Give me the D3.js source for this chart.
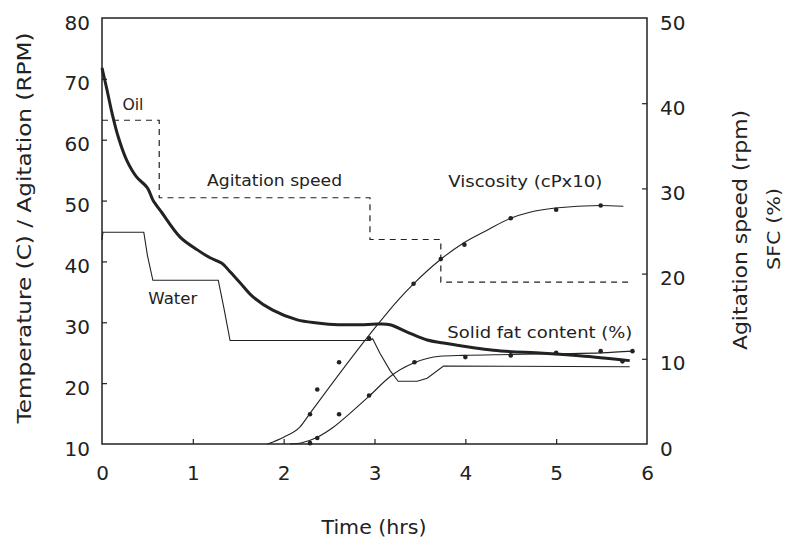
<!DOCTYPE html>
<html>
<head>
<meta charset="utf-8">
<script src="https://cdn.jsdelivr.net/npm/d3@7"></script>
<style>
  body { margin: 0; background: #fff; }
  svg text { font-family: "DejaVu Sans", sans-serif; fill: #222; }
  .tick line { stroke: #222; stroke-width: 1.2; }
</style>
</head>
<body>
<svg id="svg" width="786" height="551"></svg>
<script>
// values (time in hrs)
const timeTicks = [0, 1, 2, 3, 4, 5, 6];
const leftTicks = [10, 20, 30, 40, 50, 60, 70, 80];
const rightTicks = [0, 10, 20, 30, 40, 50];

// oil temperature (C), left axis
const oilTime = [0, 0.055, 0.11, 0.18, 0.27, 0.38, 0.5, 0.56, 0.66, 0.86, 1.05, 1.19, 1.32, 1.41, 1.52, 1.66, 1.88, 2.15, 2.37, 2.6, 2.84, 3.03, 3.17, 3.36, 3.58, 3.76, 4.31, 4.86, 5.41, 5.81];
const oilTemp = [71.8, 68.2, 64.4, 60.4, 56.7, 53.9, 52.1, 50.1, 48.0, 44.0, 41.9, 40.6, 39.7, 38.3, 36.5, 34.2, 32.0, 30.4, 29.9, 29.6, 29.6, 29.7, 29.6, 28.4, 27.1, 26.6, 25.4, 24.9, 24.3, 23.7];

// water temperature (C), left axis
const waterTime = [0, 0.01, 0.46, 0.5, 0.56, 1.28, 1.34, 1.41, 2.95, 2.98, 3.06, 3.17, 3.26, 3.47, 3.58, 3.76, 5.81];
const waterTemp = [43.5, 44.8, 44.8, 41.0, 36.9, 36.9, 32.5, 27.0, 27.0, 27.3, 24.9, 22.1, 20.3, 20.3, 20.8, 22.8, 22.7];

// agitation speed (rpm), right axis, steps
const agitTime = [0, 0.63, 0.63, 2.95, 2.95, 3.73, 3.73, 5.81];
const agitSpeed = [38, 38, 28.9, 28.9, 24, 24, 19, 19];

// viscosity (cP x 10), right axis: fitted curve and measured points
const viscTime = [1.82, 2.0, 2.18, 2.29, 2.95, 3.26, 3.43, 3.72, 3.98, 4.24, 4.5, 4.71, 4.99, 5.48, 5.74];
const viscValue = [0, 0.8, 2.0, 3.6, 12.9, 16.9, 18.8, 21.6, 23.6, 25.1, 26.5, 27.2, 27.7, 28.0, 27.9];
const viscPtTime = [2.29, 2.37, 2.61, 2.94, 3.43, 3.73, 3.99, 4.5, 5.0, 5.49];
const viscPtValue = [3.5, 6.4, 9.6, 12.4, 18.8, 21.7, 23.4, 26.5, 27.5, 28.0];

// solid fat content (%), right axis: fitted curve and measured points
const sfcTime = [2.07, 2.2, 2.37, 2.55, 2.73, 2.95, 3.17, 3.43, 3.72, 3.98, 4.5, 5.0, 5.5, 5.84];
const sfcValue = [0, 0.15, 0.8, 2.0, 3.6, 5.7, 7.9, 9.5, 10.3, 10.4, 10.5, 10.6, 10.7, 10.9];
const sfcPtTime = [2.29, 2.37, 2.61, 2.94, 3.44, 4.0, 4.5, 5.0, 5.49, 5.73, 5.84];
const sfcPtValue = [0.1, 0.7, 3.5, 5.7, 9.6, 10.2, 10.4, 10.7, 10.9, 9.7, 10.9];

const svg = d3.select("#svg");
const ink = "#222";

const x = d3.scaleLinear().domain([0, 6]).range([102, 647]);
const yL = d3.scaleLinear().domain([10, 80]).range([444, 18]);
const yR = d3.scaleLinear().domain([0, 50]).range([444, 18]);

const zip = (a, b) => a.map((d, i) => [d, b[i]]);

// axes (ticks point inward)
const gx = svg.append("g").attr("transform", "translate(0,444)")
  .call(d3.axisBottom(x).tickValues(timeTicks).tickSize(-5).tickSizeOuter(0).tickPadding(22).tickFormat(d3.format("d")));
const gl = svg.append("g").attr("transform", "translate(102,0)")
  .call(d3.axisLeft(yL).tickValues(leftTicks).tickSize(-5).tickSizeOuter(0).tickPadding(12));
const gr = svg.append("g").attr("transform", "translate(647,0)")
  .call(d3.axisRight(yR).tickValues(rightTicks).tickSize(-5).tickSizeOuter(0).tickPadding(13));
[gx, gl, gr].forEach(g => {
  g.select(".domain").remove();
  g.selectAll("text").style("font-size", "20px").attr("fill", ink);
});
gl.selectAll("text").attr("dy", "0.55em");
gr.selectAll("text").attr("dy", "0.55em");
// no tick marks at the frame corners
gx.selectAll(".tick line").filter(d => d === 0 || d === 6).remove();
gl.selectAll(".tick line").filter(d => d === 10 || d === 80).remove();
gr.selectAll(".tick line").filter(d => d === 0 || d === 50).remove();

// frame
svg.append("rect")
  .attr("x", x(0)).attr("y", yL(80))
  .attr("width", x(6) - x(0)).attr("height", yL(10) - yL(80))
  .attr("fill", "none").attr("stroke", ink).attr("stroke-width", 1.5);

// lines
const lineL = d3.line().x(d => x(d[0])).y(d => yL(d[1]));
const lineR = d3.line().x(d => x(d[0])).y(d => yR(d[1]));

svg.append("path").datum(zip(agitTime, agitSpeed))
  .attr("d", lineR).attr("fill", "none").attr("stroke", ink)
  .attr("stroke-width", 1.2).attr("stroke-dasharray", "6,5");

svg.append("path").datum(zip(waterTime, waterTemp))
  .attr("d", lineL).attr("fill", "none").attr("stroke", ink).attr("stroke-width", 1.1);

svg.append("path").datum(zip(viscTime, viscValue))
  .attr("d", lineR.curve(d3.curveMonotoneX)).attr("fill", "none").attr("stroke", ink).attr("stroke-width", 1.1);

svg.append("path").datum(zip(sfcTime, sfcValue))
  .attr("d", lineR.curve(d3.curveMonotoneX)).attr("fill", "none").attr("stroke", ink).attr("stroke-width", 1.1);

svg.append("path").datum(zip(oilTime, oilTemp))
  .attr("d", lineL.curve(d3.curveCatmullRom.alpha(0.5))).attr("fill", "none").attr("stroke", ink).attr("stroke-width", 3);

// measured points
svg.append("g").selectAll("circle").data(zip(viscPtTime, viscPtValue).concat(zip(sfcPtTime, sfcPtValue)))
  .join("circle")
  .attr("cx", d => x(d[0])).attr("cy", d => yR(d[1])).attr("r", 2.3).attr("fill", ink);

// series labels (centre position in data units)
const labels = [
  { text: "Oil", t: 0.34, v: 64.9, len: 21 },
  { text: "Agitation  speed", t: 1.9, v: 52.4, len: 135 },
  { text: "Viscosity  (cPx10)", t: 4.66, v: 52.2, len: 154 },
  { text: "Water", t: 0.78, v: 33.0, len: 49 },
  { text: "Solid  fat  content  (%)", t: 4.82, v: 27.4, len: 185 }
];
svg.append("g").selectAll("text").data(labels).join("text")
  .attr("x", d => x(d.t)).attr("y", d => yL(d.v))
  .attr("text-anchor", "middle")
  .attr("textLength", d => d.len).attr("lengthAdjust", "spacingAndGlyphs")
  .style("font-size", "16px")
  .text(d => d.text);

// axis titles
svg.append("text").attr("x", 374).attr("y", 534).attr("text-anchor", "middle")
  .attr("textLength", 105).attr("lengthAdjust", "spacingAndGlyphs")
  .style("font-size", "20px").text("Time  (hrs)");

svg.append("text").attr("transform", "translate(24,228) rotate(-90)")
  .attr("text-anchor", "middle").attr("dy", "0.35em")
  .attr("textLength", 391).attr("lengthAdjust", "spacingAndGlyphs")
  .style("font-size", "20px").text("Temperature  (C)  /  Agitation  (RPM)");

svg.append("text").attr("transform", "translate(740,230) rotate(-90)")
  .attr("text-anchor", "middle").attr("dy", "0.35em")
  .attr("textLength", 240).attr("lengthAdjust", "spacingAndGlyphs")
  .style("font-size", "20px").text("Agitation  speed  (rpm)");

svg.append("text").attr("transform", "translate(774,229) rotate(-90)")
  .attr("text-anchor", "middle").attr("dy", "0.35em")
  .attr("textLength", 82).attr("lengthAdjust", "spacingAndGlyphs")
  .style("font-size", "18px").text("SFC  (%)");
</script>
</body>
</html>
